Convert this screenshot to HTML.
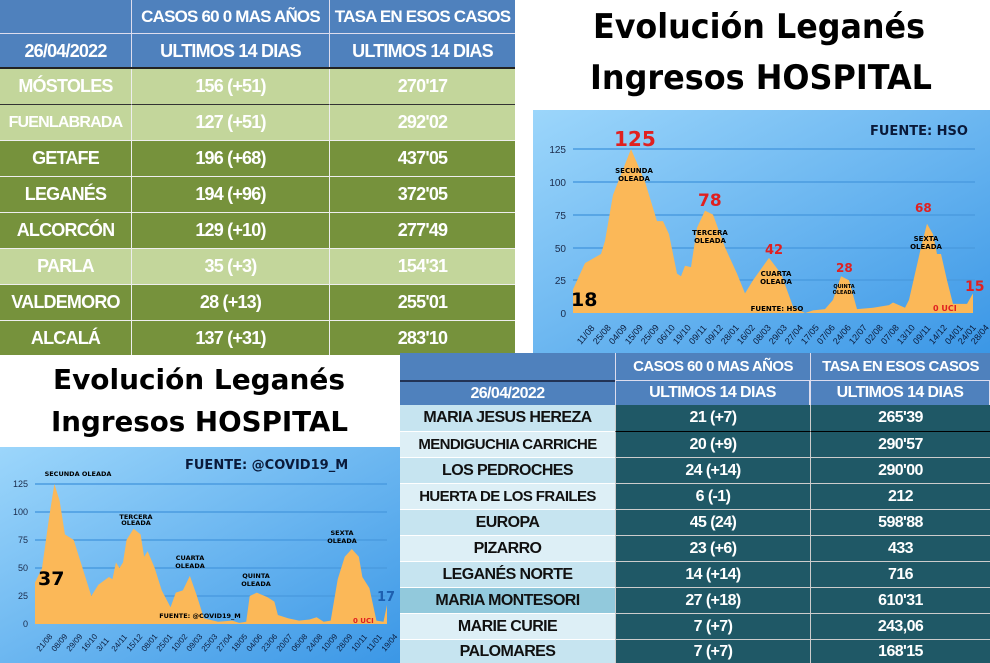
<!DOCTYPE html>
<html><head><meta charset="utf-8"><style>
body{margin:0;width:990px;height:663px;overflow:hidden;background:#fff;position:relative;font-family:"Liberation Sans",sans-serif;}
.c{position:absolute;display:flex;align-items:center;justify-content:center;font-weight:bold;color:#fff;box-sizing:border-box;white-space:nowrap;letter-spacing:-0.8px;}
.t .c{font-size:18px;}
.b .c{font-size:16px;letter-spacing:-0.6px;}
</style></head><body>

<svg width="990" height="663" style="position:absolute;left:0;top:0">
<defs>
<linearGradient id="g1" x1="0" y1="0" x2="1" y2="1"><stop offset="0" stop-color="#9cd6fb"/><stop offset="1" stop-color="#3b97e6"/></linearGradient>
</defs>
<rect x="533" y="110" width="457" height="243" fill="url(#g1)"/>
<g stroke="#4a9be0" stroke-width="1.5">
<line x1="573" y1="149" x2="975" y2="149"/><line x1="573" y1="182" x2="975" y2="182"/><line x1="573" y1="215" x2="975" y2="215"/><line x1="573" y1="248" x2="975" y2="248"/><line x1="573" y1="280" x2="975" y2="280"/>
</g>
<g transform="translate(573,313) scale(400,-1.312)">
<path fill="#fbb858" d="M0,0 L0,18 0.03,38 0.07,45 0.08,55 0.1,90 0.145,125 0.18,100 0.21,70 0.225,70 0.24,60 0.26,30 0.27,28 0.28,36 0.295,35 0.31,65 0.33,78 0.35,75 0.38,50 0.41,30 0.43,15 0.45,25 0.49,42 0.52,30 0.55,5 0.58,0 0.6,2 0.63,3 0.65,10 0.67,28 0.69,25 0.71,3 0.75,4 0.79,6 0.8,8 0.83,4 0.84,10 0.87,50 0.885,68 0.9,60 0.91,45 0.92,45 0.935,25 0.95,7 0.985,7 1,15 1,0Z"/>
</g>
<g font-family="Liberation Sans,sans-serif" font-size="10" fill="#1a2a4a" text-anchor="end">
<text x="566" y="153">125</text><text x="566" y="186">100</text><text x="566" y="219">75</text><text x="566" y="252">50</text><text x="566" y="284">25</text><text x="566" y="317">0</text>
</g>
<g font-family="Liberation Sans,sans-serif" font-size="9" fill="#0a1a3a">
<text transform="translate(581,345) rotate(-50)">11/08</text><text transform="translate(597,345) rotate(-50)">25/08</text><text transform="translate(613,345) rotate(-50)">04/09</text><text transform="translate(629,345) rotate(-50)">15/09</text><text transform="translate(645,345) rotate(-50)">25/09</text><text transform="translate(661,345) rotate(-50)">06/10</text><text transform="translate(677,345) rotate(-50)">19/10</text><text transform="translate(693,345) rotate(-50)">09/11</text><text transform="translate(709,345) rotate(-50)">09/12</text><text transform="translate(725,345) rotate(-50)">28/01</text><text transform="translate(741,345) rotate(-50)">16/02</text><text transform="translate(757,345) rotate(-50)">08/03</text><text transform="translate(773,345) rotate(-50)">29/03</text><text transform="translate(789,345) rotate(-50)">27/04</text><text transform="translate(805,345) rotate(-50)">17/05</text><text transform="translate(821,345) rotate(-50)">07/06</text><text transform="translate(837,345) rotate(-50)">24/06</text><text transform="translate(853,345) rotate(-50)">12/07</text><text transform="translate(869,345) rotate(-50)">02/08</text><text transform="translate(885,345) rotate(-50)">07/08</text><text transform="translate(901,345) rotate(-50)">13/10</text><text transform="translate(917,345) rotate(-50)">09/11</text><text transform="translate(933,345) rotate(-50)">14/12</text><text transform="translate(949,345) rotate(-50)">04/01</text><text transform="translate(962,345) rotate(-50)">24/01</text><text transform="translate(975,345) rotate(-50)">28/04</text>
</g>
<g font-family="DejaVu Sans,sans-serif" font-weight="bold">
<text x="870" y="135" font-size="13" fill="#0a1a3a">FUENTE: HSO</text>
<text x="614" y="146" font-size="20" fill="#e02020">125</text>
<text x="698" y="206" font-size="17" fill="#e02020">78</text>
<text x="765" y="254" font-size="13" fill="#e02020">42</text>
<text x="836" y="272" font-size="12" fill="#e02020">28</text>
<text x="915" y="212" font-size="12" fill="#e02020">68</text>
<text x="965" y="291" font-size="14" fill="#e02020">15</text>
<text x="571" y="306" font-size="19" fill="#000">18</text>
<text x="933" y="311" font-size="8" fill="#e02020">0 UCI</text>
<g font-size="7" fill="#000" text-anchor="middle">
<text x="634" y="173">SECUNDA</text><text x="634" y="181">OLEADA</text>
<text x="710" y="235">TERCERA</text><text x="710" y="243">OLEADA</text>
<text x="776" y="276">CUARTA</text><text x="776" y="284">OLEADA</text>
<text x="844" y="288" font-size="5">QUINTA</text><text x="844" y="294" font-size="5">OLEADA</text>
<text x="926" y="241">SEXTA</text><text x="926" y="249">OLEADA</text>
<text x="777" y="311">FUENTE: HSO</text>
</g>
</g>

<g font-family="DejaVu Sans,sans-serif" font-weight="bold" fill="#000">
<text x="593" y="38" font-size="34" textLength="332" lengthAdjust="spacingAndGlyphs">Evolución Leganés</text>
<text x="590" y="89" font-size="34" textLength="342" lengthAdjust="spacingAndGlyphs">Ingresos HOSPITAL</text>
<text x="53" y="389" font-size="28" textLength="292" lengthAdjust="spacingAndGlyphs">Evolución Leganés</text>
<text x="51" y="431" font-size="28" textLength="297" lengthAdjust="spacingAndGlyphs">Ingresos HOSPITAL</text>
</g>

<rect x="0" y="447" width="400" height="216" fill="url(#g1)"/>
<g stroke="#4a9be0" stroke-width="1.5">
<line x1="35" y1="484" x2="387" y2="484"/><line x1="35" y1="512" x2="387" y2="512"/><line x1="35" y1="540" x2="387" y2="540"/><line x1="35" y1="568" x2="387" y2="568"/><line x1="35" y1="596" x2="387" y2="596"/>
</g>
<g transform="translate(35,624) scale(352,-1.12)">
<path fill="#fbb858" d="M0,0 L0,37 0.02,50 0.04,95 0.055,125 0.07,110 0.085,80 0.11,75 0.13,55 0.16,25 0.18,35 0.21,42 0.22,40 0.23,55 0.24,50 0.25,55 0.26,75 0.28,85 0.3,80 0.31,60 0.32,65 0.34,50 0.36,30 0.385,15 0.4,28 0.42,30 0.44,43 0.46,25 0.48,5 0.52,2 0.56,3 0.58,1 0.6,2 0.61,25 0.63,28 0.66,24 0.68,20 0.69,8 0.72,5 0.75,3 0.78,4 0.8,6 0.82,2 0.84,3 0.86,40 0.88,60 0.9,67 0.92,60 0.93,42 0.95,32 0.97,3 0.99,2 1,17 1,0Z"/>
</g>
<g font-family="Liberation Sans,sans-serif" font-size="9" fill="#1a2a4a" text-anchor="end">
<text x="28" y="487">125</text><text x="28" y="515">100</text><text x="28" y="543">75</text><text x="28" y="571">50</text><text x="28" y="599">25</text><text x="28" y="627">0</text>
</g>
<g font-family="Liberation Sans,sans-serif" font-size="8" fill="#0a1a3a">
<text transform="translate(40,652) rotate(-50)">21/08</text><text transform="translate(55,652) rotate(-50)">08/09</text><text transform="translate(70,652) rotate(-50)">29/09</text><text transform="translate(85,652) rotate(-50)">16/10</text><text transform="translate(100,652) rotate(-50)">3/11</text><text transform="translate(115,652) rotate(-50)">24/11</text><text transform="translate(130,652) rotate(-50)">15/12</text><text transform="translate(145,652) rotate(-50)">08/01</text><text transform="translate(160,652) rotate(-50)">25/01</text><text transform="translate(175,652) rotate(-50)">10/02</text><text transform="translate(190,652) rotate(-50)">09/03</text><text transform="translate(205,652) rotate(-50)">25/03</text><text transform="translate(220,652) rotate(-50)">27/04</text><text transform="translate(235,652) rotate(-50)">18/05</text><text transform="translate(250,652) rotate(-50)">04/06</text><text transform="translate(265,652) rotate(-50)">23/06</text><text transform="translate(280,652) rotate(-50)">20/07</text><text transform="translate(295,652) rotate(-50)">06/08</text><text transform="translate(310,652) rotate(-50)">24/08</text><text transform="translate(325,652) rotate(-50)">10/09</text><text transform="translate(340,652) rotate(-50)">28/09</text><text transform="translate(355,652) rotate(-50)">10/11</text><text transform="translate(370,652) rotate(-50)">11/01</text><text transform="translate(385,652) rotate(-50)">19/04</text>
</g>
<g font-family="DejaVu Sans,sans-serif" font-weight="bold">
<text x="185" y="469" font-size="13" fill="#0a1a3a">FUENTE: @COVID19_M</text>
<text x="38" y="585" font-size="19" fill="#000">37</text>
<text x="377" y="601" font-size="13" fill="#1e5fb0">17</text>
<text x="353" y="623" font-size="7" fill="#e02020">0 UCI</text>
<g font-size="6.5" fill="#000" text-anchor="middle">
<text x="78" y="476">SECUNDA OLEADA</text>
<text x="136" y="519">TERCERA</text><text x="136" y="525">OLEADA</text>
<text x="190" y="560">CUARTA</text><text x="190" y="568">OLEADA</text>
<text x="256" y="578">QUINTA</text><text x="256" y="586">OLEADA</text>
<text x="342" y="535">SEXTA</text><text x="342" y="543">OLEADA</text>
<text x="200" y="618">FUENTE: @COVID19_M</text>
</g>
</g>
</svg>

<div class="t">
<div class="c" style="left:0;top:0;width:131px;height:33px;background:#4f81bd"></div>
<div class="c" style="left:131px;top:0;width:198px;height:33px;background:#4f81bd;border-left:1px solid #dde;font-size:17px">CASOS 60 0 MAS AÑOS</div>
<div class="c" style="left:329px;top:0;width:186px;height:33px;background:#4f81bd;border-left:1px solid #dde;font-size:17px">TASA EN ESOS CASOS</div>
<div class="c" style="left:0;top:33px;width:131px;height:35px;background:#4f81bd;border-top:1px solid #dde">26/04/2022</div>
<div class="c" style="left:131px;top:33px;width:198px;height:35px;background:#4f81bd;border:1px solid #dde;border-right:0;border-bottom:0">ULTIMOS 14 DIAS</div>
<div class="c" style="left:329px;top:33px;width:186px;height:35px;background:#4f81bd;border:1px solid #dde;border-right:0;border-bottom:0">ULTIMOS 14 DIAS</div>
<div style="position:absolute;left:0;top:67px;width:515px;height:2px;background:#222"></div>

<div class="c" style="left:0;top:69px;width:131px;height:35px;background:#c3d69b">MÓSTOLES</div>
<div class="c" style="left:131px;top:69px;width:198px;height:35px;background:#c3d69b;border-left:1px solid #eee">156 (+51)</div>
<div class="c" style="left:329px;top:69px;width:186px;height:35px;background:#c3d69b;border-left:1px solid #eee">270'17</div>
<div class="c" style="left:0;top:104px;width:131px;height:36px;background:#c3d69b;border-top:1px solid #333;font-size:16px">FUENLABRADA</div>
<div class="c" style="left:131px;top:104px;width:198px;height:36px;background:#c3d69b;border-top:1px solid #333;border-left:1px solid #eee">127 (+51)</div>
<div class="c" style="left:329px;top:104px;width:186px;height:36px;background:#c3d69b;border-top:1px solid #333;border-left:1px solid #eee">292'02</div>
<div class="c" style="left:0;top:140px;width:131px;height:36px;background:#76923c;border-top:1px solid #eee">GETAFE</div>
<div class="c" style="left:131px;top:140px;width:198px;height:36px;background:#76923c;border-top:1px solid #eee;border-left:1px solid #eee">196 (+68)</div>
<div class="c" style="left:329px;top:140px;width:186px;height:36px;background:#76923c;border-top:1px solid #eee;border-left:1px solid #eee">437'05</div>
<div class="c" style="left:0;top:176px;width:131px;height:36px;background:#76923c;border-top:1px solid #eee">LEGANÉS</div>
<div class="c" style="left:131px;top:176px;width:198px;height:36px;background:#76923c;border-top:1px solid #eee;border-left:1px solid #eee">194 (+96)</div>
<div class="c" style="left:329px;top:176px;width:186px;height:36px;background:#76923c;border-top:1px solid #eee;border-left:1px solid #eee">372'05</div>
<div class="c" style="left:0;top:212px;width:131px;height:36px;background:#76923c;border-top:1px solid #eee">ALCORCÓN</div>
<div class="c" style="left:131px;top:212px;width:198px;height:36px;background:#76923c;border-top:1px solid #eee;border-left:1px solid #eee">129 (+10)</div>
<div class="c" style="left:329px;top:212px;width:186px;height:36px;background:#76923c;border-top:1px solid #eee;border-left:1px solid #eee">277'49</div>
<div class="c" style="left:0;top:248px;width:131px;height:36px;background:#c3d69b;border-top:1px solid #eee">PARLA</div>
<div class="c" style="left:131px;top:248px;width:198px;height:36px;background:#c3d69b;border-top:1px solid #eee;border-left:1px solid #eee">35 (+3)</div>
<div class="c" style="left:329px;top:248px;width:186px;height:36px;background:#c3d69b;border-top:1px solid #eee;border-left:1px solid #eee">154'31</div>
<div class="c" style="left:0;top:284px;width:131px;height:36px;background:#76923c;border-top:1px solid #eee">VALDEMORO</div>
<div class="c" style="left:131px;top:284px;width:198px;height:36px;background:#76923c;border-top:1px solid #eee;border-left:1px solid #eee">28 (+13)</div>
<div class="c" style="left:329px;top:284px;width:186px;height:36px;background:#76923c;border-top:1px solid #eee;border-left:1px solid #eee">255'01</div>
<div class="c" style="left:0;top:320px;width:131px;height:35px;background:#76923c;border-top:1px solid #eee">ALCALÁ</div>
<div class="c" style="left:131px;top:320px;width:198px;height:35px;background:#76923c;border-top:1px solid #eee;border-left:1px solid #eee">137 (+31)</div>
<div class="c" style="left:329px;top:320px;width:186px;height:35px;background:#76923c;border-top:1px solid #eee;border-left:1px solid #eee">283'10</div>
</div>

<div class="b">
<div class="c" style="left:400px;top:353px;width:215px;height:27px;background:#4f81bd"></div>
<div class="c" style="left:615px;top:353px;width:195px;height:27px;background:#4f81bd;border-left:1px solid #dde;font-size:15px">CASOS 60 0 MAS AÑOS</div>
<div class="c" style="left:810px;top:353px;width:180px;height:27px;background:#4f81bd;border-left:1px solid #dde;font-size:15px">TASA EN ESOS CASOS</div>
<div class="c" style="left:400px;top:380px;width:215px;height:25px;background:#4f81bd;border-top:2px solid #235">26/04/2022</div>
<div class="c" style="left:615px;top:380px;width:195px;height:25px;background:#4f81bd;border:1px solid #dde;border-bottom:0">ULTIMOS 14 DIAS</div>
<div class="c" style="left:810px;top:380px;width:180px;height:25px;background:#4f81bd;border:1px solid #dde;border-bottom:0">ULTIMOS 14 DIAS</div>

<div style="position:absolute;left:400px;top:405px;width:590px;height:258px;">
<div class="c" style="left:0;top:0;width:215px;height:26px;background:#c6e4f0;color:#111">MARIA JESUS HEREZA</div>
<div class="c" style="left:215px;top:0;width:195px;height:26px;background:#1f5866;border-left:1px solid #ccc">21 (+7)</div>
<div class="c" style="left:410px;top:0;width:180px;height:26px;background:#1f5866;border-left:1px solid #ccc">265'39</div>
<div class="c" style="left:0;top:26px;width:215px;height:26px;background:#ddeff6;color:#111;border-top:1px solid #fff;font-size:15px">MENDIGUCHIA CARRICHE</div>
<div class="c" style="left:215px;top:26px;width:195px;height:26px;background:#1f5866;border-left:1px solid #ccc;border-top:1px solid #000">20 (+9)</div>
<div class="c" style="left:410px;top:26px;width:180px;height:26px;background:#1f5866;border-left:1px solid #ccc;border-top:1px solid #000">290'57</div>
<div class="c" style="left:0;top:52px;width:215px;height:26px;background:#c6e4f0;color:#111;border-top:1px solid #fff">LOS PEDROCHES</div>
<div class="c" style="left:215px;top:52px;width:195px;height:26px;background:#1f5866;border-left:1px solid #ccc;border-top:1px solid #ccc">24 (+14)</div>
<div class="c" style="left:410px;top:52px;width:180px;height:26px;background:#1f5866;border-left:1px solid #ccc;border-top:1px solid #ccc">290'00</div>
<div class="c" style="left:0;top:78px;width:215px;height:26px;background:#ddeff6;color:#111;border-top:1px solid #fff;font-size:15px">HUERTA DE LOS FRAILES</div>
<div class="c" style="left:215px;top:78px;width:195px;height:26px;background:#1f5866;border-left:1px solid #ccc;border-top:1px solid #ccc">6 (-1)</div>
<div class="c" style="left:410px;top:78px;width:180px;height:26px;background:#1f5866;border-left:1px solid #ccc;border-top:1px solid #ccc">212</div>
<div class="c" style="left:0;top:104px;width:215px;height:26px;background:#c6e4f0;color:#111;border-top:1px solid #fff">EUROPA</div>
<div class="c" style="left:215px;top:104px;width:195px;height:26px;background:#1f5866;border-left:1px solid #ccc;border-top:1px solid #ccc">45 (24)</div>
<div class="c" style="left:410px;top:104px;width:180px;height:26px;background:#1f5866;border-left:1px solid #ccc;border-top:1px solid #ccc">598'88</div>
<div class="c" style="left:0;top:130px;width:215px;height:26px;background:#ddeff6;color:#111;border-top:1px solid #fff">PIZARRO</div>
<div class="c" style="left:215px;top:130px;width:195px;height:26px;background:#1f5866;border-left:1px solid #ccc;border-top:1px solid #ccc">23 (+6)</div>
<div class="c" style="left:410px;top:130px;width:180px;height:26px;background:#1f5866;border-left:1px solid #ccc;border-top:1px solid #ccc">433</div>
<div class="c" style="left:0;top:156px;width:215px;height:26px;background:#c6e4f0;color:#111;border-top:1px solid #fff">LEGANÉS NORTE</div>
<div class="c" style="left:215px;top:156px;width:195px;height:26px;background:#1f5866;border-left:1px solid #ccc;border-top:1px solid #ccc">14 (+14)</div>
<div class="c" style="left:410px;top:156px;width:180px;height:26px;background:#1f5866;border-left:1px solid #ccc;border-top:1px solid #ccc">716</div>
<div class="c" style="left:0;top:182px;width:215px;height:26px;background:#92c9dc;color:#111;border-top:1px solid #fff">MARIA MONTESORI</div>
<div class="c" style="left:215px;top:182px;width:195px;height:26px;background:#1f5866;border-left:1px solid #ccc;border-top:1px solid #ccc">27 (+18)</div>
<div class="c" style="left:410px;top:182px;width:180px;height:26px;background:#1f5866;border-left:1px solid #ccc;border-top:1px solid #ccc">610'31</div>
<div class="c" style="left:0;top:208px;width:215px;height:26px;background:#ddeff6;color:#111;border-top:1px solid #fff">MARIE CURIE</div>
<div class="c" style="left:215px;top:208px;width:195px;height:26px;background:#1f5866;border-left:1px solid #ccc;border-top:1px solid #ccc">7 (+7)</div>
<div class="c" style="left:410px;top:208px;width:180px;height:26px;background:#1f5866;border-left:1px solid #ccc;border-top:1px solid #ccc">243,06</div>
<div class="c" style="left:0;top:234px;width:215px;height:24px;background:#c6e4f0;color:#111;border-top:1px solid #fff">PALOMARES</div>
<div class="c" style="left:215px;top:234px;width:195px;height:24px;background:#1f5866;border-left:1px solid #ccc;border-top:1px solid #ccc">7 (+7)</div>
<div class="c" style="left:410px;top:234px;width:180px;height:24px;background:#1f5866;border-left:1px solid #ccc;border-top:1px solid #ccc">168'15</div>
</div>
</div>
</body></html>
